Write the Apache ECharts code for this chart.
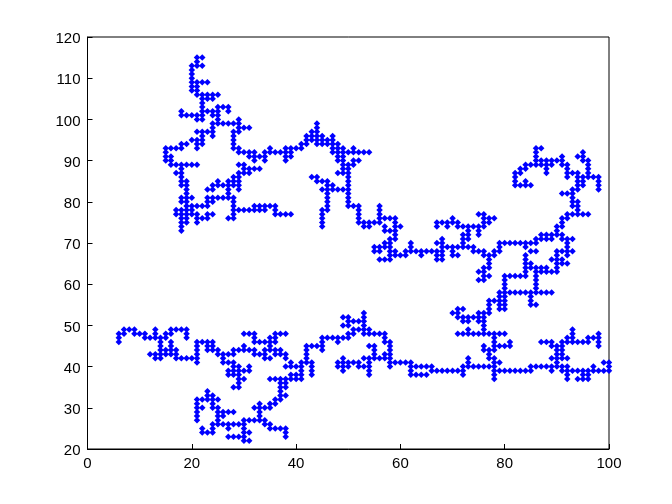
<!DOCTYPE html>
<html><head><meta charset="utf-8">
<style>html,body{margin:0;padding:0;background:#fff}#c{width:672px;height:504px}</style>
<script src="https://cdn.jsdelivr.net/npm/echarts@6/dist/echarts.min.js"></script>
</head><body><div id="c"></div>
<script>
const xTicks=[0,20,40,60,80,100];
const yTicks=[20,30,40,50,60,70,80,90,100,110,120];
// y level -> x values
const rows={
115:[21,22],114:[21],113:[20,21,22],112:[20],111:[20],110:[20],109:[20,21,22,23],108:[20,21],107:[20,21],
106:[21,22,23,24,25],105:[22,23,24],104:[22],103:[22,25,26,27],102:[18,22,23,24,25,27],101:[18,19,20,21,22,24,25],
100:[21,22,25,29],99:[24,25,26,27,28,29,44],98:[24,29,30,31,44],97:[21,22,23,24,28,29,43,44],96:[22,24,28,42,43,44,45,47],
95:[20,21,22,28,42,43,44,45,46,47],94:[18,19,21,22,28,41,42,44,45,46,47,48],
93:[15,16,17,18,21,28,29,35,38,39,40,41,47,48,49,51,86,87],
92:[15,29,30,31,32,34,35,36,37,38,39,47,48,49,50,51,52,53,54,86,95],
91:[15,16,31,32,33,34,38,39,48,49,86,91,94,95],
90:[15,16,32,34,38,48,49,51,52,86,87,88,89,90,91,95,96],
89:[16,17,18,19,20,21,29,30,49,50,51,84,85,86,87,88,89,91,92,96],
88:[18,30,31,32,33,49,50,83,84,88,92,96],
87:[17,18,29,30,31,48,49,50,82,83,88,92,93,94,96],
86:[18,28,29,43,44,50,82,92,94,95,96,97,98],
85:[18,19,25,27,28,29,44,45,46,50,82,84,94,95,98],
84:[18,19,24,25,26,27,28,29,46,47,50,82,83,84,85,94,95,98],
83:[19,23,24,27,29,45,46,47,48,49,50,93,94,98],
82:[19,27,46,50,91,92,93],
81:[18,19,20,23,24,25,26,27,28,46,50,93],
80:[18,19,23,24,28,46,50,93,94],
79:[19,20,21,22,23,28,32,33,34,35,36,46,50,51,52,56,93,94],
78:[17,18,19,20,28,29,30,31,32,33,34,36,45,46,52,56,94],
77:[17,18,19,20,21,23,24,28,36,37,38,39,45,52,56,75,76,92,93,94,95,96],
76:[18,19,21,22,23,27,28,45,52,56,57,58,59,70,76,77,78,91,92],
75:[18,19,21,45,52,53,54,55,56,59,67,68,69,70,71,76,77,91],
74:[18,45,53,54,57,59,60,67,69,71,72,73,74,75,76,90,91],
73:[18,57,58,59,73,75,90],
72:[59,72,73,75,87,88,89,90,91],
71:[58,59,68,72,73,86,87,88,89,91,92,93],
70:[57,58,62,67,68,72,79,80,81,82,83,84,85,86,92],
69:[55,56,57,58,62,68,69,70,71,72,73,74,79,84,92],
68:[55,56,58,59,61,62,63,64,65,66,67,68,70,74,75,76,78,79,85,86,90,91,92,93],
67:[58,59,60,61,64,67,68,70,71,76,77,78,84,90,92],
66:[56,57,58,67,68,77,84,89,90,91],
65:[77,84,85,90,91,92],
64:[76,77,84,85,86,87,88,90],
63:[75,76,84,86,87,88,89,90],
62:[76,77,80,81,82,83,84,86],
61:[75,76,80,86],60:[80,86],59:[80,86],
58:[79,80,81,82,83,84,85,86,87,88,89],
57:[79,80,85],56:[77,78,79,80,85],55:[77,79,80,85,86],54:[71,72,77,79,80],
53:[53,70,71,75,76,77],
52:[49,50,53,71,72,73,74,75,76],
51:[50,51,52,53,72,73,75,76],
50:[49,50,53,76],
49:[7,8,9,13,16,17,18,19,51,52,53,54,73,76,93],
48:[6,7,9,10,11,13,15,16,19,30,31,32,36,37,38,50,51,53,54,55,56,57,71,72,73,74,75,76,77,78,79,80,93,98],
47:[6,11,12,13,14,15,19,32,35,36,45,46,47,48,49,50,57,78,92,93,96,97,98],
46:[6,14,16,21,22,23,24,32,33,34,35,36,45,48,57,58,78,81,87,88,89,91,92,93,94,95,96,98],
45:[14,16,21,23,24,30,35,42,43,44,45,54,55,58,76,78,79,80,81,89,90,91,98],
44:[14,15,16,17,21,23,24,25,28,29,30,31,32,34,35,36,37,42,45,55,58,76,77,78,90,91],
43:[12,13,14,15,16,17,21,25,26,27,28,32,33,34,36,37,38,42,55,57,58,77,90,91],
42:[13,14,17,18,19,20,21,26,34,35,38,42,49,53,54,55,56,57,58,73,77,78,89,90,91,92],
41:[21,26,27,28,39,41,42,43,48,49,50,51,52,54,58,59,60,61,62,73,78,79,90,99,100],
40:[28,29,31,38,39,40,41,43,48,49,50,52,53,54,58,62,63,64,65,66,72,73,74,75,76,77,78,85,86,87,88,89,90,91,92,97,100],
39:[27,28,29,30,31,41,43,49,54,62,66,67,68,69,70,71,72,78,79,80,81,82,83,84,85,89,91,92,93,94,95,96,97,98,99,100],
38:[27,28,29,39,40,41,43,54,62,63,64,65,72,78,92,95,96],
37:[29,30,35,36,37,38,39,40,41,78,92,94,95,96],
36:[29,37,38],35:[28,29,37,38],34:[23,37],33:[23,24,37,38],
32:[21,22,23,24,25,36,37],31:[21,24,33,35,36],30:[21,22,24,25,32,33,34,35],
29:[21,25,26,27,28,33],28:[21,25,26,33],27:[21,25,30,31,32,33,34],
26:[24,25,26,27,28,29,30,34,35],25:[22,24,27,30,35,36,37,38],24:[22,23,24,30,31,38],
23:[27,28,29,30,38],22:[30,31]
};
const points=[];
Object.keys(rows).forEach(y=>rows[y].forEach(x=>points.push([x,+y])));
const font={fontFamily:'"Liberation Sans",Arial,sans-serif',fontSize:15,color:'#000'};
const mkAxis=(min,max,iv,extra)=>Object.assign({type:'value',min,max,interval:iv,
  axisLine:{show:true,onZero:false,lineStyle:{color:'#000',width:1}},
  axisTick:{show:true,inside:true,length:5,lineStyle:{color:'#000',width:1}},
  splitLine:{show:false}},extra||{});
const chart=echarts.init(document.getElementById('c'),null,{renderer:'canvas'});
chart.setOption({
  animation:false,backgroundColor:'#fff',
  grid:{left:87.5,right:63,top:37,bottom:55,show:true,borderColor:'#000',borderWidth:1,backgroundColor:'#fff'},
  xAxis:mkAxis(0,100,20,{axisLabel:Object.assign({margin:7},font)}),
  yAxis:mkAxis(20,120,10,{axisLabel:Object.assign({margin:7,formatter:'{a|{value}}',rich:{a:Object.assign({padding:[4,0,0,0]},font)}},font)}),
  series:[{type:'scatter',data:points,symbol:'diamond',symbolSize:6.5,clip:false,
    itemStyle:{color:'#0000ff',opacity:1},silent:true}]
});
</script></body></html>
